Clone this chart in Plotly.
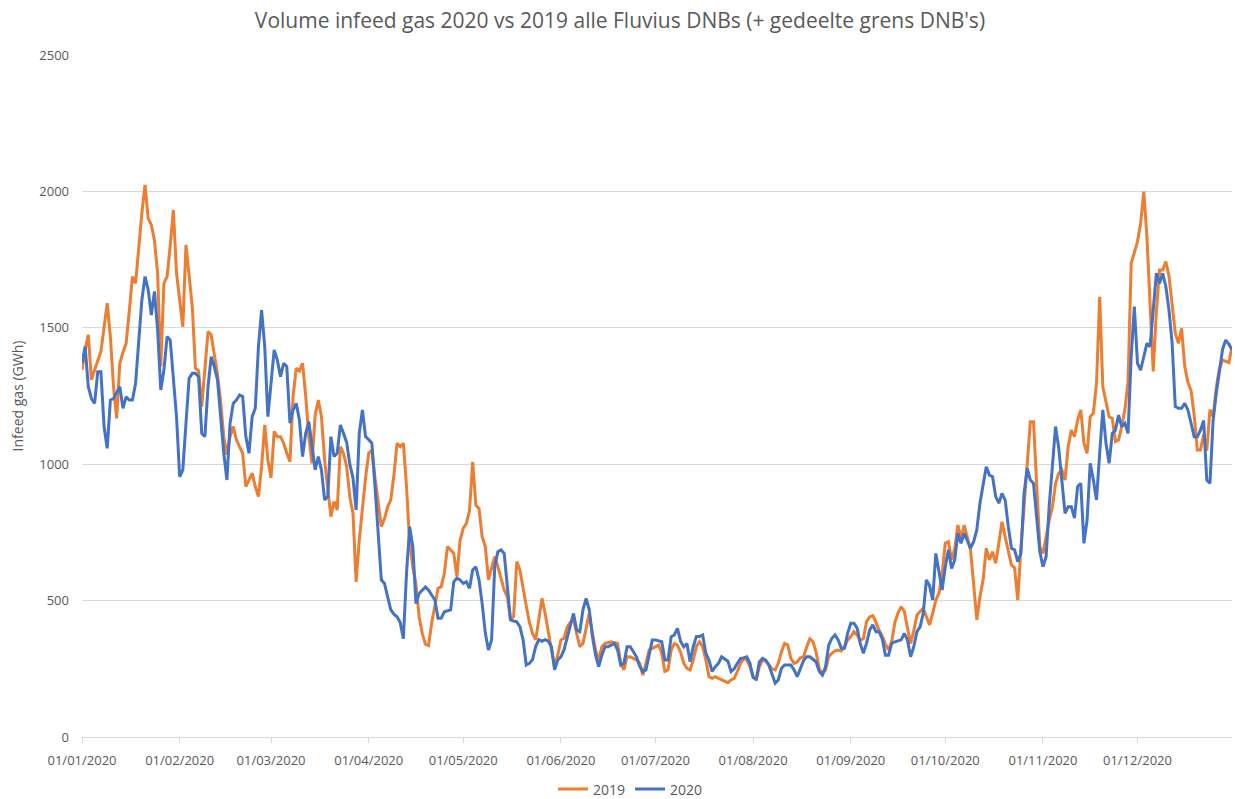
import pandas as pd
import plotly.graph_objects as go

series_names = ["2019", "2020"]

vol_2019 = [
    1345, 1420, 1474, 1309, 1345, 1380, 1413, 1500, 1590, 1468,
    1284, 1168, 1370, 1410, 1443, 1560, 1688, 1663, 1800, 1920,
    2024, 1901, 1877, 1820, 1700, 1358, 1663, 1688, 1800, 1932,
    1700, 1600, 1504, 1804, 1690, 1578, 1352, 1342, 1211, 1350,
    1486, 1474, 1400, 1330, 1230, 1100, 1035, 1101, 1138, 1090,
    1064, 1040, 918, 942, 967, 918, 881, 991, 1144, 1015,
    950, 1120, 1101, 1101, 1077, 1040, 1009, 1250, 1352, 1342,
    1370, 1250, 1100, 1003, 1180, 1235, 1174, 1015, 900, 808,
    863, 832, 1064, 1040, 991, 880, 820, 569, 722, 844,
    950, 1040, 1052, 950, 860, 771, 800, 844, 869, 960,
    1077, 1064, 1077, 918, 710, 624, 560, 441, 380, 340,
    335, 420, 480, 545, 551, 600, 698, 686, 673, 588,
    722, 765, 783, 830, 1009, 850, 838, 734, 698, 576,
    624, 661, 624, 576, 539, 514, 429, 441, 643, 612,
    539, 480, 420, 380, 356, 429, 508, 453, 380, 319,
    258, 300, 356, 362, 404, 420, 429, 374, 331, 343,
    400, 453, 380, 319, 282, 331, 343, 346, 349, 346,
    343, 270, 246, 294, 294, 288, 282, 270, 227, 270,
    319, 325, 331, 337, 307, 240, 246, 319, 343, 337,
    310, 270, 252, 246, 282, 331, 349, 331, 282, 221,
    215, 221, 215, 209, 205, 199, 209, 215, 240, 270,
    288, 282, 258, 221, 209, 258, 282, 278, 264, 250,
    246, 270, 313, 343, 337, 288, 270, 275, 290, 294,
    330, 360, 350, 310, 250, 233, 246, 294, 307, 316,
    319, 315, 330, 355, 368, 386, 374, 355, 360, 423,
    440, 445, 420, 390, 370, 340, 320, 350, 420, 455,
    478, 460, 400, 343, 390, 447, 460, 472, 441, 411,
    453, 502, 527, 600, 710, 716, 650, 690, 777, 728,
    777, 734, 686, 560, 429, 514, 576, 692, 649, 679,
    637, 710, 789, 734, 686, 630, 620, 502, 690, 840,
    1000, 1156, 1156, 900, 698, 673, 740, 795, 844, 930,
    967, 979, 942, 1064, 1125, 1101, 1162, 1199, 1077, 1040,
    1174, 1187, 1297, 1614, 1284, 1223, 1174, 1168, 1083, 1089,
    1138, 1200, 1300, 1736, 1773, 1816, 1883, 1999, 1834, 1565,
    1340, 1560, 1712, 1712, 1743, 1690, 1590, 1480, 1443, 1498,
    1358, 1300, 1270, 1180, 1052, 1052, 1110, 1050, 1200, 1174,
    1280, 1350, 1382, 1376, 1372, 1431,
]

vol_2020 = [
    1370, 1431, 1284, 1240, 1223, 1339, 1339, 1138, 1058, 1235,
    1241, 1260, 1284, 1205, 1247, 1235, 1235, 1296, 1450, 1602,
    1688, 1640, 1547, 1633, 1492, 1272, 1345, 1468, 1455, 1300,
    1174, 954, 979, 1150, 1315, 1333, 1333, 1321, 1113, 1101,
    1284, 1394, 1358, 1309, 1162, 1040, 942, 1150, 1223, 1235,
    1254, 1248, 1101, 1040, 1174, 1205, 1431, 1565, 1431, 1174,
    1297, 1419, 1382, 1321, 1370, 1358, 1150, 1199, 1223, 1162,
    1028, 1113, 1156, 1064, 979, 1028, 979, 869, 881, 1101,
    1028, 1040, 1144, 1113, 1080, 1000, 950, 832, 1113, 1199,
    1101, 1090, 1077, 918, 747, 576, 563, 514, 466, 450,
    441, 420, 360, 600, 771, 697, 489, 526, 540, 550,
    538, 520, 502, 435, 435, 459, 462, 466, 569, 582,
    576, 563, 569, 545, 612, 624, 576, 490, 382, 319,
    356, 624, 679, 686, 673, 563, 429, 425, 422, 404,
    356, 264, 270, 284, 332, 357, 351, 357, 351, 331,
    246, 282, 294, 320, 368, 410, 453, 392, 386, 466,
    508, 466, 368, 300, 258, 300, 331, 331, 337, 343,
    319, 264, 270, 331, 331, 313, 294, 260, 240, 246,
    307, 356, 356, 352, 349, 282, 282, 368, 374, 398,
    350, 331, 343, 276, 331, 368, 368, 374, 307, 282,
    240, 258, 270, 294, 285, 278, 240, 250, 270, 288,
    290, 294, 270, 218, 212, 276, 288, 282, 264, 227,
    197, 209, 252, 264, 264, 264, 246, 221, 250, 280,
    294, 294, 285, 275, 240, 227, 258, 337, 362, 374,
    356, 325, 325, 380, 417, 417, 400, 343, 307, 343,
    392, 411, 386, 386, 360, 300, 300, 343, 349, 352,
    356, 380, 356, 294, 331, 386, 404, 453, 576, 555,
    502, 673, 600, 539, 624, 686, 618, 649, 747, 710,
    747, 716, 692, 716, 759, 857, 930, 991, 960, 954,
    881, 857, 893, 869, 771, 692, 686, 643, 673, 893,
    985, 942, 930, 800, 680, 624, 661, 850, 1000, 1138,
    1060, 930, 820, 844, 844, 802, 918, 930, 710, 795,
    1003, 942, 869, 1040, 1199, 1077, 1003, 1113, 1125, 1180,
    1138, 1150, 1113, 1394, 1578, 1370, 1345, 1394, 1443, 1431,
    1578, 1700, 1663, 1700, 1651, 1565, 1443, 1211, 1205, 1205,
    1223, 1199, 1150, 1101, 1101, 1125, 1160, 942, 930, 1160,
    1260, 1340, 1420, 1455, 1440, 1419,
]

tick_dates = ["2020-01-01", "2020-02-01", "2020-03-01", "2020-04-01",
              "2020-05-01", "2020-06-01", "2020-07-01", "2020-08-01",
              "2020-09-01", "2020-10-01", "2020-11-01", "2020-12-01"]
tick_labels = ["01/01/2020", "01/02/2020", "01/03/2020", "01/04/2020",
               "01/05/2020", "01/06/2020", "01/07/2020", "01/08/2020",
               "01/09/2020", "01/10/2020", "01/11/2020", "01/12/2020"]
y_ticks = [0, 500, 1000, 1500, 2000, 2500]

dates = pd.date_range("2020-01-01", periods=len(vol_2019), freq="D")

FONT = "Open Sans"
GREY = "#595959"
FIG_H = 830

fig = go.Figure()
fig.add_trace(go.Scatter(x=dates, y=vol_2019, mode="lines", name=series_names[0],
                         line=dict(color="#ED7D31", width=3)))
fig.add_trace(go.Scatter(x=dates, y=vol_2020, mode="lines", name=series_names[1],
                         line=dict(color="#4472C4", width=3)))

fig.update_layout(
    width=1235, height=FIG_H,
    margin=dict(l=82, r=3, t=55, b=FIG_H - 737),
    paper_bgcolor="white", plot_bgcolor="white",
    font=dict(family=FONT, color=GREY),
    title=dict(text="Volume infeed gas 2020 vs 2019 alle Fluvius DNBs (+ gedeelte grens DNB's)",
               x=0.502, xanchor="center", y=1 - 21 / FIG_H, yanchor="middle",
               font=dict(family=FONT, size=21, color=GREY)),
    xaxis=dict(type="date", range=["2020-01-01", "2020-12-31"],
               tickvals=tick_dates, ticktext=tick_labels,
               showgrid=False, showline=True, linecolor="#d9d9d9", linewidth=1,
               ticks="outside", ticklen=5, tickcolor="#d9d9d9",
               ticklabelstandoff=6,
               tickfont=dict(family=FONT, size=13, color=GREY), zeroline=False),
    yaxis=dict(range=[0, 2500], tickvals=y_ticks, showgrid=True,
               gridcolor="#d9d9d9", gridwidth=1, zeroline=False, showline=False,
               ticklabelstandoff=12,
               tickfont=dict(family=FONT, size=13, color=GREY),
               title=dict(text="Infeed gas (GWh)", standoff=12,
                          font=dict(family=FONT, size=14, color=GREY))),
    legend=dict(orientation="h", x=0.477, xanchor="center", y=-0.0535, yanchor="top",
                font=dict(family=FONT, size=14, color=GREY), bgcolor="rgba(0,0,0,0)"),
    showlegend=True,
)

fig.write_html(
    "out.html",
    config={"displayModeBar": False},
    post_script="document.body.style.margin='0';"
                "document.body.style.overflow='hidden';"
                "document.documentElement.style.overflow='hidden';",
)
